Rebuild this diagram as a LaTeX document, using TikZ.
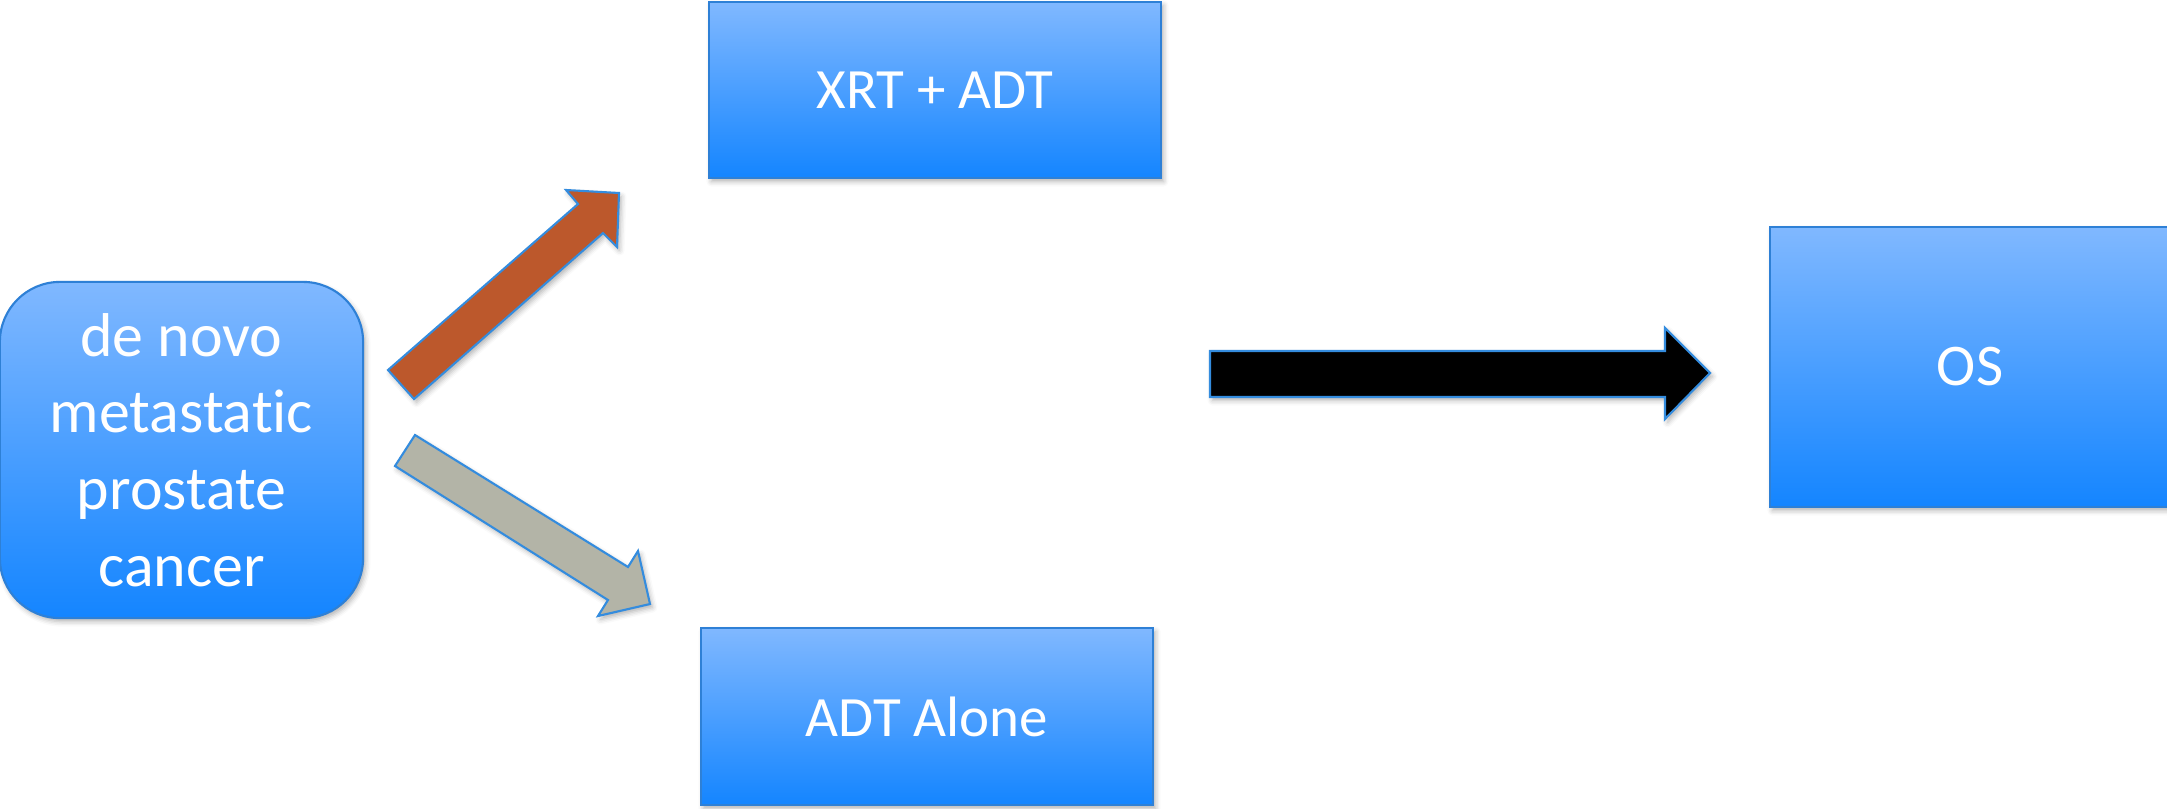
\documentclass[tikz,border=0pt]{standalone}
\usepackage{fontspec}
\setmainfont[Ligatures={NoCommon}]{Carlito}
\usetikzlibrary{shadows.blur}
\definecolor{boxtop}{RGB}{128,184,255}
\definecolor{boxbot}{RGB}{20,133,255}
\definecolor{boxline}{RGB}{46,128,214}
\definecolor{arrline}{RGB}{52,140,222}
\definecolor{orangearr}{RGB}{188,88,44}
\definecolor{grayarr}{RGB}{179,180,167}
\tikzset{
  softshadow/.style={blur shadow={shadow xshift=0.025cm, shadow yshift=-0.035cm, shadow blur radius=0.05cm, shadow opacity=30}},
  bluebox/.style={draw=boxline, line width=0.6pt, top color=boxtop, bottom color=boxbot,
    text=white, align=center, inner sep=0pt, softshadow},
  blockarrow/.style={draw=arrline, line width=0.6pt, line join=miter, softshadow}
}
\begin{document}
\begin{tikzpicture}[x=0.01cm, y=-0.01cm]
\useasboundingbox (0,0) rectangle (2167,808);
\begin{scope}
\clip (0,0) rectangle (2167,808);
% boxes
\node[bluebox, rounded corners=0.6cm, minimum width=3.63cm, minimum height=3.36cm,
  font=\fontsize{17.6pt}{21.8pt}\selectfont] (start) at (181.5,450)
  {de novo\\metastatic\\prostate\\cancer};
\node[bluebox, minimum width=4.52cm, minimum height=1.76cm,
  font=\fontsize{16.2pt}{19.5pt}\selectfont] (xrt) at (935,90) {\raisebox{-1.5pt}{XRT + ADT}};
\node[bluebox, minimum width=4.52cm, minimum height=1.77cm,
  font=\fontsize{16.2pt}{19.5pt}\selectfont] (adt) at (927,716.5) {\raisebox{-1pt}{ADT Alone}};
\node[bluebox, minimum width=4.00cm, minimum height=2.80cm,
  font=\fontsize{16.8pt}{20pt}\selectfont] (os) at (1970,367) {\raisebox{-2pt}{OS}};
% block arrows
\draw[blockarrow, fill=orangearr]
  (388,370) -- (578,204) -- (566,190) -- (619,193) -- (617,247) -- (603,233) -- (414,399) -- cycle;
\draw[blockarrow, fill=grayarr]
  (415,435) -- (628,567) -- (638,551) -- (650,604) -- (598,616) -- (608,600) -- (395,466) -- cycle;
\draw[blockarrow, fill=black]
  (1210,351) -- (1665,351) -- (1665,328) -- (1710,373) -- (1665,419) -- (1665,397) -- (1210,397) -- cycle;
\end{scope}
\end{tikzpicture}
\end{document}
